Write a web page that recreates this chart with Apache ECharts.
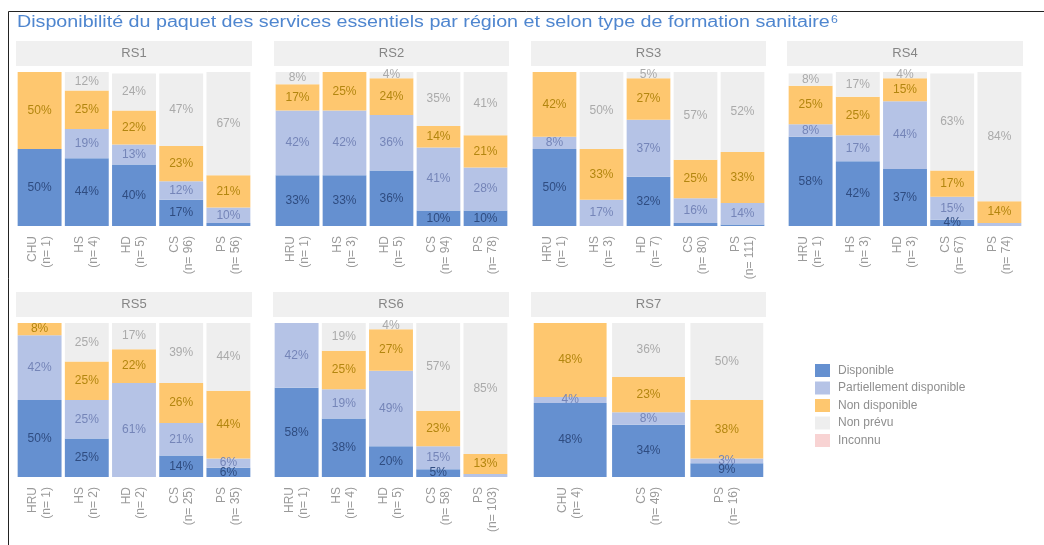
<!DOCTYPE html>
<html>
<head>
<meta charset="utf-8">
<title>Disponibilité du paquet des services essentiels</title>
<script src="https://cdn.jsdelivr.net/npm/echarts@6/dist/echarts.min.js"></script>
<style>
html, body { margin: 0; padding: 0; background: #fff; }
#chart { width: 1044px; height: 545px; }
</style>
</head>
<body>
<div id="chart"></div>
<script>
// valeurs (en %)
const regions = ['RS1', 'RS2', 'RS3', 'RS4', 'RS5', 'RS6', 'RS7']
const types = [
  ['CHU', 'HS', 'HD', 'CS', 'PS'],
  ['HRU', 'HS', 'HD', 'CS', 'PS'],
  ['HRU', 'HS', 'HD', 'CS', 'PS'],
  ['HRU', 'HS', 'HD', 'CS', 'PS'],
  ['HRU', 'HS', 'HD', 'CS', 'PS'],
  ['HRU', 'HS', 'HD', 'CS', 'PS'],
  ['CHU', 'CS', 'PS']
]
const counts = [
  [1, 4, 5, 96, 56],
  [1, 3, 5, 94, 78],
  [1, 3, 7, 80, 111],
  [1, 3, 3, 67, 74],
  [1, 2, 2, 25, 35],
  [1, 4, 5, 58, 103],
  [4, 49, 16]
]
const disponible = [
  [50, 44, 40, 17, 2],
  [33, 33, 36, 10, 10],
  [50, 0, 32, 2, 1],
  [58, 42, 37, 4, 0],
  [50, 25, 0, 14, 6],
  [58, 38, 20, 5, 0],
  [48, 34, 9]
]
const partiel = [
  [0, 19, 13, 12, 10],
  [42, 42, 36, 41, 28],
  [8, 17, 37, 16, 14],
  [8, 17, 44, 15, 2],
  [42, 25, 61, 21, 6],
  [42, 19, 49, 15, 2],
  [4, 8, 3]
]
const nonDisponible = [
  [50, 25, 22, 23, 21],
  [17, 25, 24, 14, 21],
  [42, 33, 27, 25, 33],
  [25, 25, 15, 17, 14],
  [8, 25, 22, 26, 44],
  [0, 25, 27, 23, 13],
  [48, 23, 38]
]
const nonPrevu = [
  [0, 12, 24, 47, 67],
  [8, 0, 4, 35, 41],
  [0, 50, 5, 57, 52],
  [8, 17, 4, 63, 84],
  [0, 25, 17, 39, 44],
  [0, 19, 4, 57, 85],
  [0, 36, 50]
]
const legendNames = ['Disponible', 'Partiellement disponible', 'Non disponible', 'Non prévu', 'Inconnu']

// disposition des panneaux [gauche, droite, haut]
const panels = [
  [16, 252, 72], [274, 509, 72], [531, 766, 72], [787, 1023, 72],
  [16, 252, 323], [273, 509, 323], [531, 766, 323]
]
const barHeight = 154

const colors = ['#6590d0', '#b5c3e6', '#fec76f', '#eeeeee', '#f8d3d3']
const labelColors = ['#2f4c80', '#7585b8', '#b3860f', '#aaaaaa', '#c99']

const chart = echarts.init(document.getElementById('chart'))

const grid = []
const xAxis = []
const yAxis = []
const series = []
const graphic = [
  {
    type: 'polyline',
    shape: { points: [[8.5, 545], [8.5, 11.5], [1044, 11.5]] },
    style: { stroke: '#222', lineWidth: 1, fill: null }
  },
  // titre un peu étiré comme dans l'original
  {
    type: 'text',
    x: 17,
    y: 15,
    scaleX: 1.23,
    style: {
      text: '{t|Disponibilité du paquet des services essentiels par région et selon type de formation sanitaire}{s|6}',
      rich: {
        t: { fontSize: 16, fill: '#4f86cf', fontFamily: 'Liberation Sans' },
        s: { fontSize: 10, fill: '#4f86cf', fontFamily: 'Liberation Sans', verticalAlign: 'top', padding: [0, 0, 6, 1] }
      }
    }
  }
]
const stacks = [disponible, partiel, nonDisponible, nonPrevu]

regions.forEach(function(rs, i) {
  const p = panels[i]
  grid.push({ left: p[0], top: p[2], width: p[1] - p[0], height: barHeight })
  xAxis.push({
    type: 'category',
    gridIndex: i,
    data: types[i].map(function(t, j) { return t + '\n(n= ' + counts[i][j] + ')' }),
    axisLine: { show: false },
    axisTick: { show: false },
    axisLabel: {
      rotate: 90,
      margin: 10,
      color: '#9a9a9a',
      fontSize: 12,
      lineHeight: 14,
      fontFamily: 'Liberation Sans'
    }
  })
  yAxis.push({ type: 'value', gridIndex: i, min: 0, max: 100, show: false })

  stacks.forEach(function(vals, k) {
    series.push({
      name: legendNames[k],
      type: 'bar',
      xAxisIndex: i,
      yAxisIndex: i,
      stack: rs,
      barCategoryGap: '7%',
      data: vals[i],
      itemStyle: { color: colors[k] },
      label: {
        show: true,
        position: 'inside',
        color: labelColors[k],
        fontSize: 12,
        fontFamily: 'Liberation Sans',
        formatter: function(d) { return d.value >= 3 ? d.value + '%' : '' }
      }
    })
  })
  if (i === 0) {
    series.push({
      name: 'Inconnu',
      type: 'bar',
      xAxisIndex: 0,
      yAxisIndex: 0,
      stack: rs,
      data: [0, 0, 0, 0, 0],
      itemStyle: { color: colors[4] }
    })
  }

  // bandeau gris du titre de région
  graphic.push({
    type: 'rect',
    shape: { x: p[0], y: p[2] - 31, width: p[1] - p[0], height: 25 },
    style: { fill: '#f0f0f0' }
  })
  graphic.push({
    type: 'text',
    x: (p[0] + p[1]) / 2,
    y: p[2] - 18.5,
    style: {
      text: rs,
      fill: '#858585',
      font: '13px "Liberation Sans"',
      textAlign: 'center',
      textVerticalAlign: 'middle'
    }
  })
})

const option = {
  backgroundColor: '#fff',
  animation: false,
  legend: {
    orient: 'vertical',
    left: 810,
    top: 359,
    itemWidth: 15,
    itemHeight: 13,
    itemGap: 4.5,
    icon: 'rect',
    data: legendNames,
    textStyle: { color: '#8f8f8f', fontSize: 12, fontFamily: 'Liberation Sans', padding: [0, 0, 0, 3] }
  },
  grid: grid,
  xAxis: xAxis,
  yAxis: yAxis,
  series: series,
  graphic: graphic
}
chart.setOption(option)
</script>
</body>
</html>
